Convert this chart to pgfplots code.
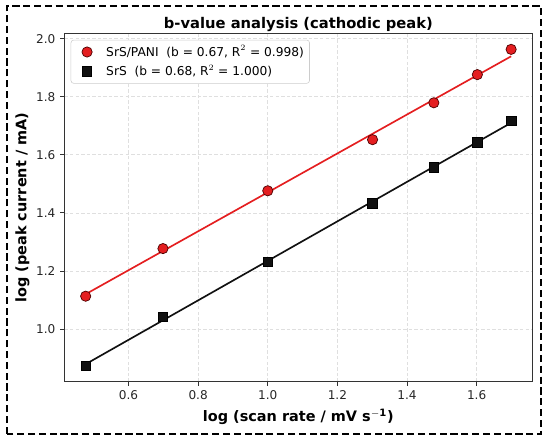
\documentclass[border=0pt]{standalone}
\usepackage{fontspec}
\setmainfont{DejaVu Sans}
\usepackage{pgfplots}
\pgfplotsset{compat=1.18}
\definecolor{pred}{RGB}{228,30,32}
\definecolor{pblack}{RGB}{17,17,17}
\begin{document}
\begin{tikzpicture}
\useasboundingbox (0,0) rectangle (396pt,318.24pt);
\draw[line width=1.5pt, dash pattern=on 5.2pt off 2.6pt] (5.04pt,5.76pt) rectangle (389.5pt,313.9pt);
\begin{axis}[
  at={(46.4pt,43.4pt)}, anchor=south west,
  width=336.9pt, height=250.7pt, scale only axis,
  xmin=0.416, xmax=1.760, ymin=0.8185, ymax=2.0175,
  xtick={0.6,0.8,1.0,1.2,1.4,1.6},
  ytick={1.0,1.2,1.4,1.6,1.8,2.0},
  xticklabel style={/pgf/number format/.cd, fixed, fixed zerofill, precision=1},
  yticklabel style={/pgf/number format/.cd, fixed, fixed zerofill, precision=1},
  /pgf/number format/assume math mode=true,
  tick label style={font=\fontsize{8.7}{10}\selectfont, text=black!85},
  tick align=outside, xtick pos=left, ytick pos=left,
  major tick length=3pt,
  every tick/.style={black!80, line width=0.6pt},
  axis line style={black!80, line width=0.9pt},
  grid=major,
  major grid style={gray!25, dash pattern=on 2.5pt off 1.5pt, line width=0.5pt},
  title={b-value analysis (cathodic peak)},
  title style={font=\bfseries\fontsize{10.6}{12}\selectfont, yshift=-8pt},
  xlabel={log (scan rate / mV s$^{\mathbf{-1}}$)},
  ylabel={log (peak current / mA)},
  xlabel style={font=\bfseries\fontsize{10.4}{12}\selectfont, yshift=0pt},
  ylabel style={font=\bfseries\fontsize{10.4}{12}\selectfont, yshift=-2pt},
  legend style={at={(0,1)}, anchor=north west, xshift=4.5pt, yshift=-4.5pt,
    draw=gray!40, rounded corners=2pt, fill=white,
    font=\fontsize{8.8}{10}\selectfont, inner xsep=2pt, inner ysep=2pt, row sep=0.8pt},
  legend cell align=left,
  legend image code/.code={\path (0pt,0pt) (21pt,0pt); \draw[#1] plot coordinates {(9.4pt,0pt)};},
]
% fit lines
\addplot[pred, line width=1.2pt, forget plot] coordinates {(0.477,1.120) (1.699,1.939)};
\addplot[pblack, line width=1.2pt, forget plot] coordinates {(0.477,0.879) (1.699,1.710)};
% data
\addplot[only marks, mark=*, mark size=3.7pt, mark options={fill=pred, draw=black!70!red, line width=0.5pt}]
 coordinates {(0.477,1.113) (0.699,1.277) (1.000,1.476) (1.301,1.652) (1.477,1.779) (1.602,1.876) (1.699,1.963)};
\addlegendentry{SrS/PANI\ \ (b = 0.67, R$^{2}$ = 0.998)}
\addplot[only marks, mark=square*, mark size=3.4pt, mark options={fill=pblack, draw=black, line width=0.5pt}]
 coordinates {(0.477,0.873) (0.699,1.042) (1.000,1.232) (1.301,1.432) (1.477,1.557) (1.602,1.643) (1.699,1.716)};
\addlegendentry{SrS\ \ (b = 0.68, R$^{2}$ = 1.000)}
\end{axis}
\end{tikzpicture}
\end{document}
